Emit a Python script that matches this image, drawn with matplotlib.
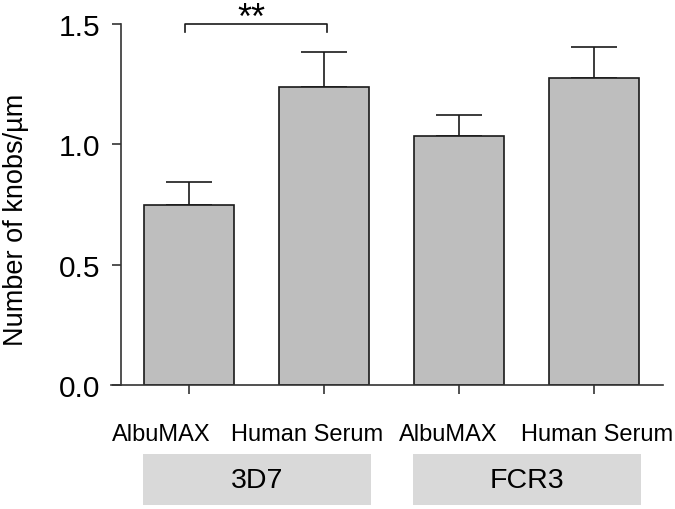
import numpy as np
import matplotlib
matplotlib.use("Agg")
import matplotlib.pyplot as plt
from matplotlib.patches import Rectangle

plt.rcParams['font.family'] = ['Liberation Sans', 'DejaVu Sans']

# data
conditions = ["AlbuMAX", "Human Serum", "AlbuMAX", "Human Serum"]
strains = ["3D7", "FCR3"]
knobs = [0.75, 1.24, 1.035, 1.275]
sem = [0.093, 0.145, 0.088, 0.128]

x = np.arange(len(knobs))
# labels in the original sit a little off their ticks
label_shift = [-0.21, -0.13, -0.08, 0.02]

fig = plt.figure(figsize=(6.75, 5.1), dpi=100)
ax = fig.add_axes([0.179, 0.243, 0.803, 0.708])

ax.bar(x, knobs, width=0.667, color="#bebebe", edgecolor="#1a1a1a", linewidth=1.2, zorder=2)
ax.errorbar(x, knobs, yerr=[np.zeros(len(sem)), sem], fmt="none", ecolor="#1a1a1a",
            elinewidth=1.2, capsize=16.5, capthick=1.2, zorder=1)

ax.set_xlim(-0.507, 3.51)
ax.set_ylim(0, 1.5)
ax.set_yticks([0.0, 0.5, 1.0, 1.5])
ax.set_yticklabels(["0.0", "0.5", "1.0", "1.5"])
ax.set_xticks(x)
ax.set_xticklabels([])
ax.tick_params(axis="y", labelsize=21.5, length=6.5, width=1.2, pad=8, color="#333333")
ax.tick_params(axis="x", length=6.5, width=1.2, color="#333333")
ax.set_ylabel("Number of knobs/µm", fontsize=19.5)
ax.yaxis.set_label_coords(-0.17, 0.46)

trans = ax.get_xaxis_transform()
for xi, sh, lab in zip(x, label_shift, conditions):
    ax.text(xi + sh, -0.135, lab, transform=trans, ha="center", va="center", fontsize=17)

for s in ["top", "right"]:
    ax.spines[s].set_visible(False)
for s in ["left", "bottom"]:
    ax.spines[s].set_linewidth(1.2)
    ax.spines[s].set_color("#333333")
ax.spines["bottom"].set_bounds(-0.58, 3.51)

# significance bracket
bx = [-0.03, -0.03, 1.02, 1.02]
by = [1.467, 1.5, 1.5, 1.467]
ax.plot(bx, by, color="#1a1a1a", lw=1.2, clip_on=False)
ax.text(0.46, 1.485, "**", ha="center", va="baseline", fontsize=26, clip_on=False)

# strain group boxes
for i, name in enumerate(strains):
    left = 2 * i - 0.345
    right = 2 * i + 1 + 0.345
    ax.add_patch(Rectangle((left, -0.332), right - left, 0.141, transform=trans,
                           facecolor="#d9d9d9", edgecolor="none", clip_on=False))
    ax.text((left + right) / 2, -0.262, name, transform=trans, ha="center", va="center",
            fontsize=20.5)

fig.savefig("out.png", dpi=100)
